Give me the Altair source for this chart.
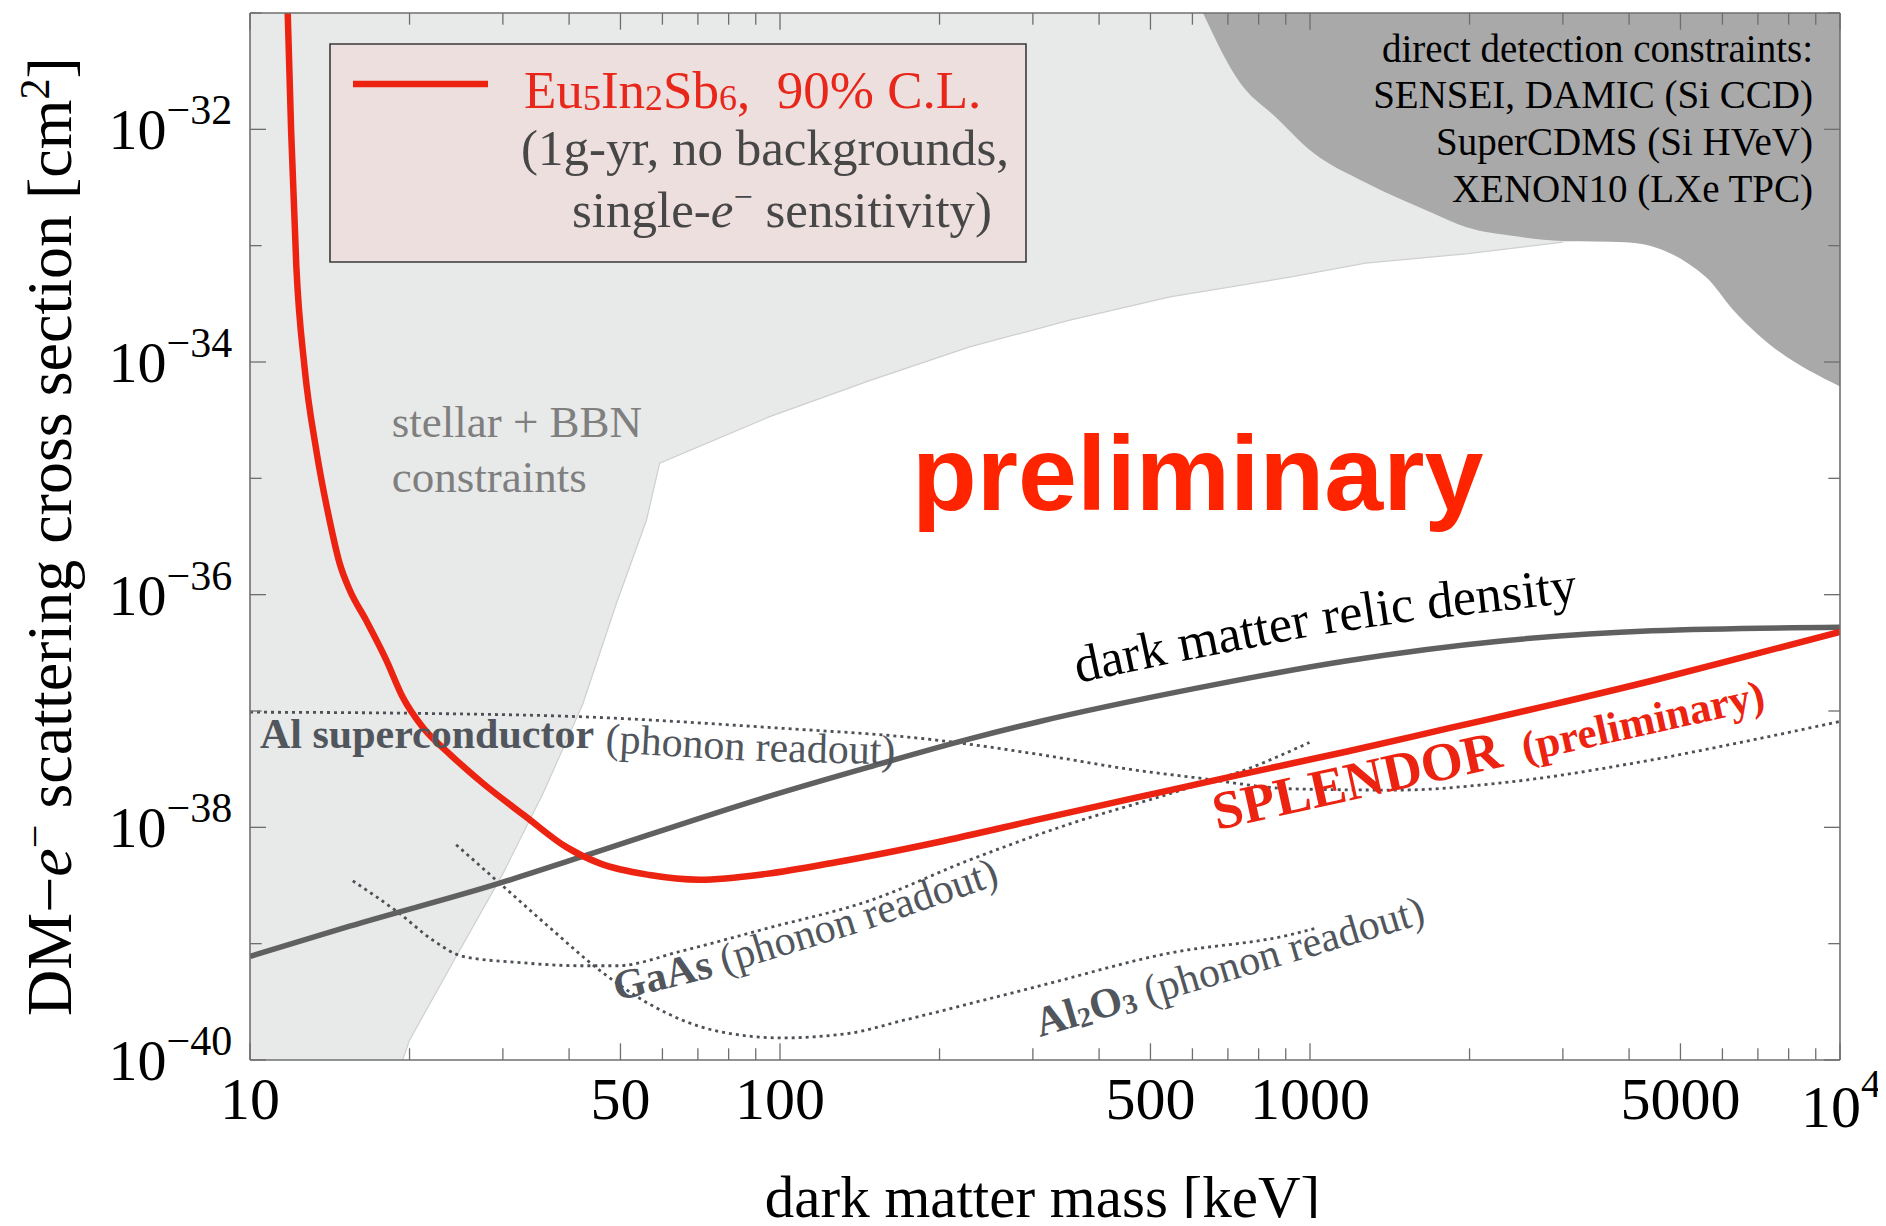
import math
import pandas as pd
import altair as alt

# ---------------- values ----------------
# mass in keV, cross section given as log10(sigma / cm^2)
red_mass = [11.78, 11.96, 12.23, 12.67, 13.34, 14.13, 14.76, 15.42, 16.56, 18.07, 19.41, 21.18, 23.81, 27.48,
            33.19, 39.54, 45.71, 56.75, 70.47, 94.19, 127.6, 197.2, 309.0, 485.9, 750.0, 1169, 1820, 2835, 4416,
            6651, 10000]
red_logsig = [-31.0, -32.03, -33.18, -34.04, -34.76, -35.36, -35.73, -35.96, -36.22, -36.56, -36.88, -37.14, -37.37,
              -37.62, -37.91, -38.17, -38.31, -38.41, -38.45, -38.40, -38.30, -38.13, -37.93, -37.73, -37.54, -37.35,
              -37.15, -36.95, -36.74, -36.53, -36.32]

relic_mass = [10, 15.42, 29.58, 42.46, 94.19, 147.6, 228.0, 309.0, 601.2, 1169, 2273, 4416, 10000]
relic_logsig = [-39.11, -38.85, -38.48, -38.25, -37.74, -37.48, -37.24, -37.09, -36.81, -36.57, -36.40, -36.31,
                -36.28]

al_mass = [10, 20.59, 42.46, 94.19, 197.2, 304.8, 471.0, 601.6, 936.6, 1459, 2273, 4416, 6651, 10000]
al_logsig = [-37.01, -37.02, -37.05, -37.14, -37.25, -37.37, -37.51, -37.57, -37.67, -37.68, -37.62, -37.42,
             -37.26, -37.09]

gaas_mass = [15.63, 19.14, 22.13, 25.23, 31.77, 42.46, 49.09, 65.61, 94.19, 147.6, 228.0, 352.4, 544.5, 770.9, 997.7]
gaas_logsig = [-38.46, -38.74, -38.97, -39.11, -39.16, -39.19, -39.19, -39.06, -38.87, -38.63, -38.28, -37.97,
               -37.71, -37.49, -37.27]

al2o3_mass = [24.49, 29.58, 36.73, 45.71, 56.75, 75.86, 100.7, 135.4, 170.6, 304.8, 544.5, 903.6, 1021]
al2o3_logsig = [-38.15, -38.48, -38.86, -39.23, -39.52, -39.75, -39.81, -39.77, -39.66, -39.37, -39.08, -38.93,
                -38.87]

stellar_mass = [10, 19.40, 20.0, 24.49, 29.99, 35.71, 42.46, 49.09, 55.98, 59.29, 95.63, 147.6, 228.0, 352.4,
                544.5, 916.2, 1274, 1968, 2999, 10000]
stellar_logsig = [-40.0, -40.0, -39.83, -39.11, -38.40, -37.71, -36.94, -36.08, -35.36, -34.87, -34.47, -34.16,
                  -33.87, -33.64, -33.44, -33.27, -33.15, -33.07, -32.97, -32.90]

dd_mass = [628.1, 737.9, 859.0, 1013, 1275, 1702, 1968, 2449, 2999, 3945, 5585, 6281, 6950, 10000]
dd_logsig = [-31.0, -31.60, -31.89, -32.20, -32.46, -32.72, -32.84, -32.92, -32.96, -32.97, -33.27, -33.55,
             -33.75, -34.21]

y_label_vals = [1e-40, 1e-38, 1e-36, 1e-34, 1e-32]
y_label_exp = ["−40", "−38", "−36", "−34", "−32"]
x_label_vals = [10, 50, 100, 500, 1000, 5000]
x_label_text = ["10", "50", "100", "500", "1000", "5000"]
x_end_val = [10000]
x_end_base = ["10"]
x_end_exp = ["4"]
y_major = [1e-40, 1e-38, 1e-36, 1e-34, 1e-32]
y_minor = [1e-39, 1e-37, 1e-35, 1e-33, 1e-31]
x_major = [10, 50, 100, 500, 1000, 5000, 10000]
x_minor = [20, 30, 40, 60, 70, 80, 90, 200, 300, 400, 600, 700, 800, 900,
           2000, 3000, 4000, 6000, 7000, 8000, 9000]

# ---------------- layout / style ----------------
W, H = 1590, 1047
OX, OY = 250, 13          # page position of plot origin (8px margin + padding)
SERIF = "Liberation Serif"
SANS = "Liberation Sans"
RED = "#EC2311"
ANN = "#51565D"
TICK = "#6E6E6E"

XS = alt.Scale(type="log", domain=[10, 10000], nice=False)
YS = alt.Scale(type="log", domain=[1e-40, 1e-31], nice=False)


def X():
    return alt.X("m:Q", scale=XS, axis=None)


def Y():
    return alt.Y("s:Q", scale=YS, axis=None)


def series(mass, logsig):
    return pd.DataFrame({"m": mass, "s": [10.0 ** v for v in logsig]})


W_R = {" ": 250, "(": 333, ")": 333, "+": 564, ",": 250, "-": 333, ".": 250, "%": 833, ":": 278, "[": 333,
       "]": 333, "−": 564, "A": 722, "B": 667, "C": 667, "D": 722, "E": 611, "H": 722, "I": 333, "L": 611,
       "M": 889, "N": 722, "O": 722, "P": 556, "S": 556, "T": 611, "V": 722, "X": 722,
       "a": 444, "b": 500, "c": 444, "d": 500, "e": 444, "g": 500, "h": 500, "i": 278, "k": 500, "l": 278,
       "m": 778, "n": 500, "o": 500, "p": 500, "r": 333, "s": 389, "t": 278, "u": 500, "v": 500, "y": 500}
W_B = {" ": 250, "(": 333, ")": 333, "A": 722, "D": 722, "E": 667, "G": 778, "L": 667, "N": 722, "O": 778,
       "P": 611, "R": 722, "S": 556, "a": 500, "c": 444, "d": 556, "e": 444, "i": 278, "l": 278, "m": 833,
       "n": 556, "o": 500, "p": 556, "r": 444, "s": 389, "t": 333, "u": 556, "y": 500}
for _c in "0123456789":
    W_R[_c] = 500
    W_B[_c] = 500
W_I = {"e": 444}


def tw(t, size, weight="normal", style="normal"):
    tab = W_B if weight == "bold" else (W_I if style == "italic" else W_R)
    return sum(tab.get(c, W_R.get(c, 500)) for c in t) * size / 1000.0


one = pd.DataFrame({"k": [0]})


def label(t, px, py, size, color, weight="normal", style="normal", align="left", angle=0.0, font=SERIF):
    return alt.Chart(one).mark_text(
        text=t, font=font, fontSize=size, fontWeight=weight, fontStyle=style, color=color,
        align=align, baseline="alphabetic", angle=angle % 360
    ).encode(x=alt.value(px - OX), y=alt.value(py - OY))


def run_text(runs, px, py, color, font=SERIF):
    out = []
    cxp, cyp = px, py
    for r in runs:
        t = r["t"]
        size = r["size"]
        wt = r.get("weight", "normal")
        st = r.get("style", "normal")
        rise = r.get("rise", 0.0)
        ang = r.get("angle", 0.0)
        th = math.radians(ang)
        dx, dy = math.cos(th), math.sin(th)
        ux, uy = math.sin(th), -math.cos(th)
        lead = len(t) - len(t.lstrip(" "))
        core = t.strip(" ")
        trail = len(t.lstrip(" ")) - len(core)
        sp = tw(" ", size, wt, st)
        cxp += lead * sp * dx
        cyp += lead * sp * dy
        out.append(label(core, cxp + rise * ux, cyp + rise * uy, size, color, wt, st, "left", ang, font))
        adv = tw(core, size, wt, st) + trail * sp
        cxp += adv * dx
        cyp += adv * dy
    return out


def total_len(runs):
    s = 0.0
    for r in runs:
        s += tw(r["t"], r["size"], r.get("weight", "normal"), r.get("style", "normal"))
    return s


layers = []

# stellar + BBN region (light) and its faint edge
light = series(stellar_mass, stellar_logsig)
light["top"] = 1e-31
layers.append(alt.Chart(light).mark_area(color="#E8E9E9", orient="vertical", clip=True)
              .encode(x=X(), y=Y(), y2="top:Q"))
layers.append(alt.Chart(series(stellar_mass[1:-1], stellar_logsig[1:-1]))
              .mark_line(color="#CFCFCF", strokeWidth=1.2, clip=True).encode(x=X(), y=Y()))

# direct detection region (dark)
dark = series(dd_mass, dd_logsig)
dark["top"] = 1e-31
layers.append(alt.Chart(dark).mark_area(color="#A9A9A9", orient="vertical", interpolate="monotone", clip=True)
              .encode(x=X(), y=Y(), y2="top:Q"))

# legend box
layers.append(alt.Chart(one).mark_rect(fill="#ECDFDE", stroke="#3A3A3A", strokeWidth=1.6)
              .encode(x=alt.value(330 - OX), x2=alt.value(1026 - OX), y=alt.value(44 - OY), y2=alt.value(262 - OY)))
layers.append(alt.Chart(one).mark_rule(color=RED, strokeWidth=6.5)
              .encode(x=alt.value(353 - OX), x2=alt.value(488 - OX), y=alt.value(84 - OY)))

# dotted projections
for mm, ll in [(al_mass, al_logsig), (gaas_mass, gaas_logsig), (al2o3_mass, al2o3_logsig)]:
    layers.append(alt.Chart(series(mm, ll)).mark_line(color="#4D5156", strokeWidth=2.8, strokeDash=[3, 4],
                                                      interpolate="monotone", clip=True)
                  .encode(x=X(), y=Y()))

# relic density
layers.append(alt.Chart(series(relic_mass, relic_logsig)).mark_line(color="#606060", strokeWidth=5.5,
                                                                    interpolate="monotone", clip=True)
              .encode(x=X(), y=Y()))
# Eu5In2Sb6 reach
layers.append(alt.Chart(series(red_mass, red_logsig)).mark_line(color=RED, strokeWidth=6.5,
                                                                interpolate="monotone", clip=True)
              .encode(x=X(), y=Y()))

# ---------------- text ----------------
# legend
layers += run_text([
    {"t": "Eu", "size": 53}, {"t": "5", "size": 36, "rise": -2}, {"t": "In", "size": 53},
    {"t": "2", "size": 36, "rise": -2}, {"t": "Sb", "size": 53}, {"t": "6", "size": 36, "rise": -2},
    {"t": ",", "size": 53}, {"t": "  90% C.L.", "size": 53}], 524, 108.3, "#E8261A")
layers.append(label("(1g-yr, no backgrounds,", 521, 165, 51, "#474747"))
layers += run_text([
    {"t": "single-", "size": 51}, {"t": "e", "size": 51, "style": "italic"},
    {"t": "−", "size": 34, "rise": 19}, {"t": " sensitivity)", "size": 51}], 572, 226.7, "#474747")

layers.append(label("stellar + BBN", 391.7, 436.7, 45, "#7F7F7F"))
layers.append(label("constraints", 391.7, 491.7, 45, "#7F7F7F"))

for i, t in enumerate(["direct detection constraints:", "SENSEI, DAMIC (Si CCD)",
                       "SuperCDMS (Si HVeV)", "XENON10 (LXe TPC)"]):
    layers.append(label(t, 1813, 61.7 + i * 46.7, 39, "black", align="right"))

layers.append(label("preliminary", 912, 510, 106, "#FF2400", weight="bold", font=SANS))

layers += run_text([
    {"t": "dark", "size": 52, "angle": -12}, {"t": " matter", "size": 52, "angle": -11},
    {"t": " relic", "size": 52, "angle": -8.5}, {"t": " density", "size": 52, "angle": -6.5}],
    1078, 683, "black")

layers.append(label("Al superconductor", 260, 748.3, 42, ANN, weight="bold"))
layers += run_text([{"t": "(phonon", "size": 42, "angle": 3.5}, {"t": " readout)", "size": 42, "angle": 1.5}],
                   605, 752, ANN)

layers += run_text([
    {"t": "GaAs", "size": 42, "weight": "bold", "angle": -14},
    {"t": " (phonon", "size": 42, "angle": -17},
    {"t": " readout)", "size": 42, "angle": -19}], 617, 1001, ANN)

layers += run_text([
    {"t": "Al", "size": 42, "weight": "bold", "angle": -16.5},
    {"t": "2", "size": 28, "weight": "bold", "rise": -3, "angle": -16.5},
    {"t": "O", "size": 42, "weight": "bold", "angle": -16.5},
    {"t": "3", "size": 28, "weight": "bold", "rise": -3, "angle": -16.5},
    {"t": " (phonon readout)", "size": 42, "angle": -16.5}], 1040, 1037, ANN)

layers += run_text([
    {"t": "SPLENDOR", "size": 54, "weight": "bold", "angle": -12.5},
    {"t": "  (preliminary)", "size": 43, "weight": "bold", "angle": -12.5}], 1217, 830, RED)

# axis titles
ytitle = [{"t": "DM−", "size": 64, "angle": -90}, {"t": "e", "size": 64, "style": "italic", "angle": -90},
          {"t": "−", "size": 42, "rise": 22, "angle": -90},
          {"t": " scattering cross section [cm", "size": 64, "angle": -90},
          {"t": "2", "size": 42, "rise": 22, "angle": -90}, {"t": "]", "size": 64, "angle": -90}]
L = total_len(ytitle)
layers += run_text(ytitle, 71, (OY + OY + H) / 2 + L / 2, "black")
layers.append(label("dark matter mass [keV]", 1042.5, 1216.7, 59, "black", align="center"))

# tick labels
ylab = pd.DataFrame({"s": y_label_vals, "e": y_label_exp})
layers.append(alt.Chart(ylab).mark_text(text="10", font=SERIF, fontSize=58, align="right", baseline="alphabetic",
                                        dy=20, color="black").encode(y=Y(), x=alt.value(166.5 - OX)))
layers.append(alt.Chart(ylab).mark_text(font=SERIF, fontSize=42, align="left", baseline="alphabetic",
                                        dy=-5, color="black").encode(y=Y(), x=alt.value(166.5 - OX), text="e:N"))
xlab = pd.DataFrame({"m": x_label_vals, "t": x_label_text})
layers.append(alt.Chart(xlab).mark_text(font=SERIF, fontSize=60, align="center", baseline="alphabetic",
                                        color="black").encode(x=X(), y=alt.value(1119 - OY), text="t:N"))
xend = pd.DataFrame({"m": x_end_val, "b": x_end_base, "p": x_end_exp})
layers.append(alt.Chart(xend).mark_text(font=SERIF, fontSize=60, align="center", baseline="alphabetic", dx=-9,
                                        color="black").encode(x=X(), y=alt.value(1126.7 - OY), text="b:N"))
layers.append(alt.Chart(xend).mark_text(font=SERIF, fontSize=40, align="left", baseline="alphabetic", dx=21,
                                        color="black").encode(x=X(), y=alt.value(1097 - OY), text="p:N"))


# ticks (inward, on all four sides)
def yt(vals, x0, x1):
    return alt.Chart(pd.DataFrame({"s": vals})).mark_rule(color=TICK, strokeWidth=1.3).encode(
        y=Y(), x=alt.value(x0), x2=alt.value(x1))


def xt(vals, y0, y1):
    return alt.Chart(pd.DataFrame({"m": vals})).mark_rule(color=TICK, strokeWidth=1.3).encode(
        x=X(), y=alt.value(y0), y2=alt.value(y1))


layers += [yt(y_major, 0, 16), yt(y_minor, 0, 11.7), yt(y_major, W, W - 16), yt(y_minor, W, W - 11.7),
           xt(x_major, H, H - 16.7), xt(x_minor, H, H - 11.7), xt(x_major, 0, 16.7), xt(x_minor, 0, 11.7)]

# frame
FR = "#6F6F6F"
layers.append(alt.Chart(one).mark_rule(color=FR, strokeWidth=1.6).encode(x=alt.value(0), x2=alt.value(W), y=alt.value(0)))
layers.append(alt.Chart(one).mark_rule(color=FR, strokeWidth=1.6).encode(x=alt.value(0), x2=alt.value(W), y=alt.value(H)))
layers.append(alt.Chart(one).mark_rule(color=FR, strokeWidth=1.6).encode(x=alt.value(0), y=alt.value(0), y2=alt.value(H)))
layers.append(alt.Chart(one).mark_rule(color=FR, strokeWidth=1.6).encode(x=alt.value(W), y=alt.value(0), y2=alt.value(H)))

chart = alt.layer(*layers).properties(
    width=W, height=H,
    padding={"left": 242, "top": 5, "right": 38, "bottom": 158},
    autosize=alt.AutoSizeParams(type="none"),
    background="white",
).configure_view(stroke=None)

chart.save("out.html", embed_options={"renderer": "svg", "actions": False})
